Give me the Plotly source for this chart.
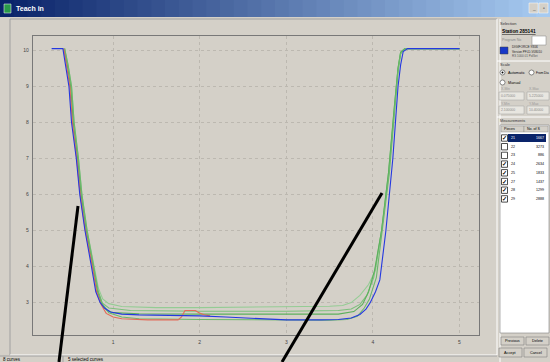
import plotly.graph_objects as go

# ---------------- data ----------------
BLUE_X = [0.29, 0.42, 0.45, 0.49, 0.52, 0.575, 0.615, 0.675, 0.75, 0.80, 0.85, 0.90, 0.97, 1.10, 1.30, 1.60,
          2.00, 2.30, 2.70, 3.00, 3.40, 3.60, 3.75, 3.85, 3.92, 3.97, 4.03, 4.08, 4.15, 4.23, 4.29, 4.32, 4.35, 4.40, 5.00]
BLUE_Y = [10.05, 10.05, 9.6, 9.0, 8.0, 7.0, 6.0, 5.0, 4.0, 3.3, 3.0, 2.85, 2.74, 2.68, 2.66, 2.65,
          2.63, 2.60, 2.55, 2.52, 2.52, 2.53, 2.57, 2.67, 2.82, 3.0, 3.3, 3.63, 5.0, 7.0, 9.0, 9.6, 9.97, 10.05, 10.05]

RED_X = [0.43, 0.46, 0.50, 0.53, 0.58, 0.62, 0.68, 0.76, 0.81, 0.86, 0.92, 1.00, 1.10, 1.40, 1.75, 1.79, 1.83,
         1.95, 1.99, 2.05, 2.12]
RED_Y = [10.05, 9.6, 9.0, 8.0, 7.0, 6.0, 5.0, 4.0, 3.3, 2.95, 2.7, 2.6, 2.55, 2.52, 2.52, 2.6, 2.78,
         2.78, 2.72, 2.66, 2.63]

G1_X = [0.44, 0.48, 0.52, 0.55, 0.60, 0.64, 0.70, 0.78, 0.83, 0.88, 0.95, 1.10, 1.50, 2.00, 2.50, 3.00, 3.50,
        3.65, 3.75, 3.85, 3.95, 4.03, 4.10, 4.18, 4.25, 4.29, 4.32, 4.37, 5.00]
G1_Y = [10.05, 9.6, 9.0, 8.0, 7.0, 6.0, 5.0, 4.0, 3.4, 3.1, 2.97, 2.89, 2.86, 2.86, 2.87, 2.88, 2.90,
        2.92, 3.0, 3.2, 3.5, 3.9, 5.0, 6.5, 8.5, 9.5, 9.95, 10.05, 10.05]

G2_X = [0.44, 0.47, 0.51, 0.54, 0.59, 0.63, 0.69, 0.77, 0.82, 0.87, 0.95, 1.20, 2.00, 3.00, 3.60, 3.75,
        3.85, 3.93, 4.01, 4.10, 4.18, 4.25, 4.29, 4.32, 4.37, 5.00]
G2_Y = [10.05, 9.6, 9.0, 8.0, 7.0, 6.0, 5.0, 4.0, 3.35, 3.0, 2.85, 2.78, 2.76, 2.76, 2.78, 2.82,
        2.95, 3.2, 3.7, 5.0, 6.6, 8.5, 9.5, 9.95, 10.05, 10.05]

G3_X = [0.43, 0.47, 0.51, 0.54, 0.59, 0.63, 0.69, 0.77, 0.82, 0.87, 0.93, 1.00, 1.30, 2.00, 3.00, 3.60,
        3.78, 3.88, 3.95, 4.02, 4.10, 4.18, 4.25, 4.29, 4.32, 4.37, 5.00]
G3_Y = [10.05, 9.6, 9.0, 8.0, 7.0, 6.0, 5.0, 4.0, 3.3, 2.95, 2.78, 2.72, 2.69, 2.68, 2.67, 2.68,
        2.75, 2.95, 3.3, 3.9, 5.0, 6.6, 8.5, 9.5, 9.95, 10.05, 10.05]

G4_X = [0.44, 0.48, 0.52, 0.55, 0.60, 0.64, 0.70, 0.78, 0.83, 0.88, 0.95, 1.10, 1.30, 2.00, 2.60, 3.00,
        3.50, 3.70, 3.82, 3.90, 3.96, 4.04, 4.11, 4.19, 4.25, 4.29, 4.32, 4.37, 5.00]
G4_Y = [10.05, 9.6, 9.0, 8.0, 7.0, 6.0, 5.0, 4.0, 3.3, 2.95, 2.72, 2.60, 2.55, 2.53, 2.52, 2.51,
        2.51, 2.53, 2.62, 2.85, 3.1, 3.7, 5.0, 6.6, 8.3, 9.4, 9.9, 10.05, 10.05]

X_TICKS = [1, 2, 3, 4, 5]
Y_TICKS = [3, 4, 5, 6, 7, 8, 9, 10]
X_RANGE = [0.075, 5.225]
Y_RANGE = [2.1, 10.4]

PIECES = ["21", "22", "23", "24", "25", "27", "28", "29"]
COUNTS = ["1667", "3273", "886", "2634", "1833", "1437", "1299", "2888"]
CHECKED = [True, False, False, True, True, True, True, True]

# ---------------- layout helpers (pixel -> paper) ----------------
W, H = 550, 362
L, R, T, B = 33, 479, 36, 335
def px(x):
    return (x - L) / (R - L)
def py(y):
    return (B - y) / (B - T)

BG = "#d4d0c8"
FONT = "Liberation Sans"

fig = go.Figure()
series = [
    (G1_X, G1_Y, "#94cc94"),
    (G2_X, G2_Y, "#7cc07c"),
    (G3_X, G3_Y, "#5cb05c"),
    (G4_X, G4_Y, "#6cb86c"),
    (RED_X, RED_Y, "#e46a58"),
    (BLUE_X, BLUE_Y, "#2438e0"),
]
for xs, ys, c in series:
    fig.add_trace(go.Scatter(x=xs, y=ys, mode="lines", line=dict(color=c, width=1.1),
                             hoverinfo="skip", showlegend=False))

shapes = []
annos = []

def rect(x0, y0, x1, y1, fill=None, line=None, lw=1, layer="above"):
    shapes.append(dict(type="rect", xref="paper", yref="paper", x0=px(x0), x1=px(x1), y0=py(y0), y1=py(y1),
                       fillcolor=fill or "rgba(0,0,0,0)", line=dict(color=line or "rgba(0,0,0,0)", width=lw if line else 0),
                       layer=layer))

def line(x0, y0, x1, y1, color, w=1, layer="above"):
    shapes.append(dict(type="line", xref="paper", yref="paper", x0=px(x0), x1=px(x1), y0=py(y0), y1=py(y1),
                       line=dict(color=color, width=w), layer=layer))

def text(x, y, s, size=5, color="#000", anchor="left", bold=False, bg=None):
    if bold:
        s = "<b>" + s + "</b>"
    annos.append(dict(xref="paper", yref="paper", x=px(x), y=py(y), text=s, showarrow=False,
                      xanchor=anchor, yanchor="middle", font=dict(size=size, color=color, family=FONT),
                      bgcolor=bg, borderpad=0))

# chart panel frame
line(10, 19, 497, 19, "#a0a0a0", layer="below")
line(10, 19, 10, 355, "#a0a0a0", layer="below")
line(10, 355, 497, 355, "#ffffff", layer="below")
line(497, 19, 497, 355, "#ffffff", layer="below")

# title bar gradient
c0 = (10, 36, 106)
c1 = (166, 202, 240)
N = 40
for i in range(N):
    t = i / (N - 1)
    col = "rgb(%d,%d,%d)" % tuple(int(c0[k] + (c1[k] - c0[k]) * t) for k in range(3))
    rect(W * i / N, 0, W * (i + 1) / N + 0.8, 17, fill=col)
rect(4, 4, 11, 13, fill="#2a9a4a", line="#ffffff", lw=0.5)
text(15, 8.5, "Teach in", size=7, color="#ffffff", bold=True)
rect(529, 3, 538, 13, fill=BG, line="#ffffff", lw=0.5)
rect(539, 3, 548, 13, fill=BG, line="#ffffff", lw=0.5)
text(533.5, 8, "_", size=5, anchor="center", bold=True)
text(543.5, 8, "▫", size=5, anchor="center")

# side panel
line(500, 19, 500, 362, "#ffffff")
text(499, 23, "Selection", size=4, color="#333")
text(501, 31, "<u>Station 285141</u>", size=4.8, bold=True)
text(501, 40, "Program No", size=3.6, color="#888")
rect(532, 36, 546, 45, fill="#ffffff", line="#808080", lw=0.5)
rect(500, 47, 508, 54, fill="#1838c8", line="#404040", lw=0.5)
text(511, 47.5, "DIGIFORCE 9306", size=3.2, color="#222")
text(511, 52, "Version PFLD-V08010", size=3.0, color="#222")
text(511, 56.5, "RS 1000 01 PolSet", size=3.0, color="#555")
line(497, 61, 550, 61, "#ffffff")
text(499, 64, "Scale", size=4, color="#333")
shapes.append(dict(type="circle", xref="paper", yref="paper", x0=px(500), x1=px(505), y0=py(70), y1=py(75),
                   fillcolor="#ffffff", line=dict(color="#404040", width=0.6)))
shapes.append(dict(type="circle", xref="paper", yref="paper", x0=px(501.5), x1=px(503.5), y0=py(71.5), y1=py(73.5),
                   fillcolor="#000000", line=dict(width=0)))
text(507, 72.5, "Automatic", size=3.8)
shapes.append(dict(type="circle", xref="paper", yref="paper", x0=px(529), x1=px(534), y0=py(70), y1=py(75),
                   fillcolor="#ffffff", line=dict(color="#404040", width=0.6)))
text(535, 72.5, "From Dia", size=3.1)
shapes.append(dict(type="circle", xref="paper", yref="paper", x0=px(500), x1=px(505), y0=py(80), y1=py(85),
                   fillcolor="#ffffff", line=dict(color="#404040", width=0.6)))
text(507, 82.5, "Manual", size=3.8)
text(500, 89, "X-Min", size=3.4, color="#999")
text(528, 89, "X-Max", size=3.4, color="#999")
rect(499, 92, 524, 100, fill="#e8e6e0", line="#a0a0a0", lw=0.5)
rect(527, 92, 549, 100, fill="#e8e6e0", line="#a0a0a0", lw=0.5)
text(500, 96, "0.075000", size=3.4, color="#888")
text(528, 96, "5.225000", size=3.4, color="#888")
text(500, 104, "Y-Min", size=3.4, color="#999")
text(528, 104, "Y-Max", size=3.4, color="#999")
rect(499, 106, 524, 114, fill="#e8e6e0", line="#a0a0a0", lw=0.5)
rect(527, 106, 549, 114, fill="#e8e6e0", line="#a0a0a0", lw=0.5)
text(500, 110, "2.100000", size=3.4, color="#888")
text(528, 110, "10.40000", size=3.4, color="#888")
line(497, 117, 550, 117, "#ffffff")
text(499, 121, "Measurements", size=3.8, color="#333")

# table
rect(500, 125, 549, 333, fill="#ffffff", line="#808080", lw=0.6)
rect(501, 126, 524, 132, fill=BG, line="#808080", lw=0.4)
rect(524, 126, 548, 132, fill=BG, line="#808080", lw=0.4)
text(503, 129, "Pieces", size=3.6)
text(526, 129, "No. of S", size=3.6)
ROW_Y0, ROW_DY = 138, 8.7
for i, (p, c, ck) in enumerate(zip(PIECES, COUNTS, CHECKED)):
    yy = ROW_Y0 + i * ROW_DY
    if i == 0:
        rect(508, yy - 4, 546, yy + 4, fill="#0a246a")
    rect(501.5, yy - 3.2, 507.5, yy + 3.2, fill="#ffffff", line="#202020", lw=0.8)
    if ck:
        text(504.5, yy, "✓", size=5.5, anchor="center", bold=True)
    tc = "#ffffff" if i == 0 else "#000000"
    text(510, yy, p, size=3.6, color=tc)
    text(545, yy, c, size=3.6, color=tc, anchor="right")

# buttons
for (x0, x1, y0, y1, s) in [(501, 524, 337, 345, "Previous"), (526, 549, 337, 345, "Delete"),
                            (499, 522, 348, 357, "Accept"), (524, 547, 348, 357, "Cancel")]:
    rect(x0, y0, x1, y1, fill=BG, line="#808080", lw=0.6)
    text((x0 + x1) / 2, (y0 + y1) / 2, s, size=3.8, anchor="center")

# status bar
line(0, 356, 497, 356, "#a0a0a0")
line(63, 356, 63, 362, "#a0a0a0")
text(2, 359.5, "8 curves", size=4.5)
text(67, 359.5, "5 selected curves", size=4.5)

# pointer lines
line(78, 206, 59, 362, "#000000", w=3)
line(382, 193, 282, 362, "#000000", w=3)

fig.update_layout(
    width=W, height=H,
    margin=dict(l=L, r=W - R, t=T, b=H - B),
    paper_bgcolor=BG, plot_bgcolor=BG,
    showlegend=False,
    shapes=shapes, annotations=annos,
    xaxis=dict(range=X_RANGE, tickvals=X_TICKS, ticktext=[str(v) for v in X_TICKS], showgrid=True,
               gridcolor="#bcb8b0", griddash="dot", gridwidth=0.6, zeroline=False,
               showline=True, linecolor="#787878", linewidth=1.2, mirror=True, ticks="",
               tickfont=dict(size=5, color="#444", family=FONT), ticklabelstandoff=2),
    yaxis=dict(range=Y_RANGE, tickvals=Y_TICKS, ticktext=[str(v) for v in Y_TICKS], showgrid=True,
               gridcolor="#bcb8b0", griddash="dot", gridwidth=0.6, zeroline=False,
               showline=True, linecolor="#787878", linewidth=1.2, mirror=True, ticks="",
               tickfont=dict(size=5, color="#444", family=FONT), ticklabelstandoff=2),
)

fig.write_html("out.html", config={"displayModeBar": False},
               post_script="document.body.style.margin='0';document.body.style.overflow='hidden';")
